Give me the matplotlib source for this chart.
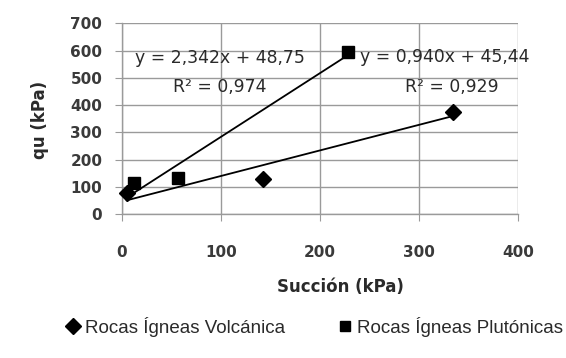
import matplotlib
matplotlib.use("Agg")
import matplotlib.pyplot as plt
import numpy as np

# Data
volc_x = [5, 143, 334]
volc_y = [78, 127, 375]
plut_x = [12, 57, 228]
plut_y = [113, 131, 595]
volc_coef = (0.940, 45.44)
plut_coef = (2.342, 48.75)
x_ticks = [0, 100, 200, 300, 400]
y_ticks = [0, 100, 200, 300, 400, 500, 600, 700]
volc_label = "Rocas Ígneas Volcánica"
plut_label = "Rocas Ígneas Plutónicas"
eq_plut = "y = 2,342x + 48,75"
r2_plut = "R² = 0,974"
eq_volc = "y = 0,940x + 45,44"
r2_volc = "R² = 0,929"

fig = plt.figure(figsize=(5.66, 3.58), dpi=100)
fig.patch.set_facecolor("white")
ax = fig.add_axes([121.7/566, 1-214/358, (518.3-121.7)/566, (214-23.3)/358])

grid_c = "#9a9a9a"
txt_c = "#2a2a2a"
ax.set_xlim(0, 400)
ax.set_ylim(0, 700)
ax.set_xticks(x_ticks)
ax.set_yticks(y_ticks)
ax.grid(True, color=grid_c, linewidth=1.0)
ax.set_axisbelow(True)
for s in ["top", "right"]:
    ax.spines[s].set_visible(False)
for s in ["left", "bottom"]:
    ax.spines[s].set_color(grid_c)
    ax.spines[s].set_linewidth(1.0)
ax.tick_params(axis="both", direction="out", length=5, color=grid_c,
               labelsize=11, labelcolor="#3a3a3a")
ax.tick_params(axis="x", pad=17)
ax.tick_params(axis="y", pad=9)
for lab in ax.get_xticklabels() + ax.get_yticklabels():
    lab.set_fontweight("bold")

# trendlines
vx = np.array([min(volc_x), max(volc_x)])
px = np.array([min(plut_x), max(plut_x)])
ax.plot(vx, volc_coef[0]*vx + volc_coef[1], color="black", lw=1.3, zorder=2)
ax.plot(px, plut_coef[0]*px + plut_coef[1], color="black", lw=1.3, zorder=2)

h1, = ax.plot(volc_x, volc_y, linestyle="none", marker="D", ms=8.5, color="black",
              label=volc_label, zorder=3, clip_on=False)
h2, = ax.plot(plut_x, plut_y, linestyle="none", marker="s", ms=8, color="black",
              label=plut_label, zorder=3, clip_on=False)

tfont = dict(fontsize=12.4, color=txt_c, ha="center", va="center")
ax.text(99, 573, eq_plut, **tfont)
ax.text(99, 467, r2_plut, **tfont)
ax.text(326, 577, eq_volc, **tfont)
ax.text(333, 467, r2_volc, **tfont)

fig.text(40/566, 1-120/358, "qu (kPa)", rotation=90, ha="center", va="center",
         fontsize=12, fontweight="bold", color=txt_c)
fig.text(340/566, 1-287/358, "Succión (kPa)", ha="center", va="center",
         fontsize=12, fontweight="bold", color=txt_c)

leg_prop = {"family": ["Liberation Sans", "DejaVu Sans"], "size": 13.5}
leg_y = 1 - 327/358
common = dict(loc="center left", frameon=False, handlelength=0.7, handletextpad=0.3,
              borderpad=0, borderaxespad=0, markerscale=0.95, prop=leg_prop,
              labelcolor=txt_c)
fig.legend([h1], [volc_label], bbox_to_anchor=(66/566, leg_y), **common)
fig.legend([h2], [plut_label], bbox_to_anchor=(338/566, leg_y), **common)

fig.savefig("out.png", dpi=100, facecolor="white")
